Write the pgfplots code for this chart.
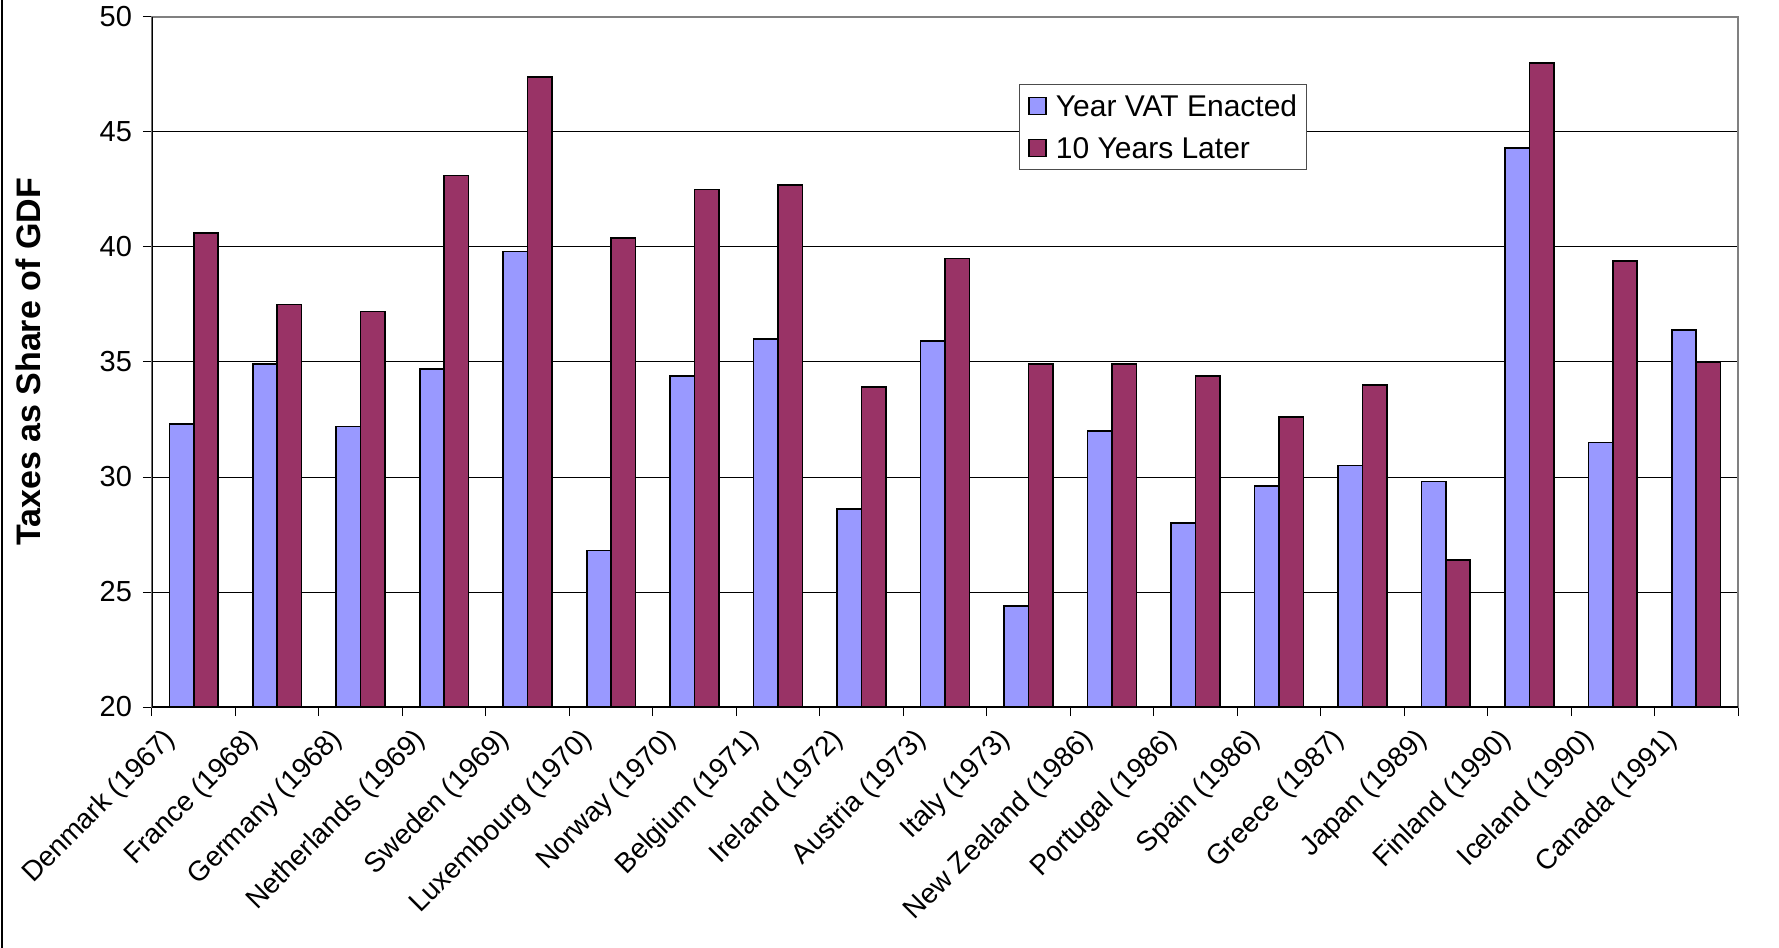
\documentclass[border=0pt]{standalone}
\usepackage{fontspec}
\setmainfont{Liberation Sans}
\usepackage{pgfplots}
\pgfplotsset{compat=1.18}
\definecolor{vatblue}{HTML}{9999FF}
\definecolor{vatred}{HTML}{993366}
\begin{document}
\begin{tikzpicture}
\useasboundingbox (-76bp,-120.5bp) rectangle (813.5bp,353.5bp);
\begin{axis}[
  at={(0,0)}, anchor=south west,
  scale only axis, width=793bp, height=345bp,
  xmin=-0.5, xmax=18.5, ymin=20, ymax=50,
  ytick={20,25,...,50},
  ymajorgrids, major grid style={black, line width=0.5bp},
  xtick={0,...,18},
  xticklabels={Denmark (1967),France (1968),Germany (1968),Netherlands (1969),Sweden (1969),Luxembourg (1970),Norway (1970),Belgium (1971),Ireland (1972),Austria (1973),Italy (1973),New Zealand (1986),Portugal (1986),Spain (1986),Greece (1987),Japan (1989),Finland (1990),Iceland (1990),Canada (1991)},
  major x tick style={draw=none},
  minor xtick={-0.5,0.5,...,18.5},
  tick align=outside, xtick pos=bottom, ytick pos=left,
  major tick length=4.5bp, minor tick length=4.5bp,
  tick style={black, line width=0.5bp},
  axis line style={gray, line width=0.7bp},
  /pgf/number format/assume math mode=true,
  tick label style={font=\fontsize{14.5bp}{17bp}\selectfont},
  y tick label style={xshift=-2bp},
  x tick label style={font=\fontsize{14bp}{17bp}\selectfont, xshift=-16bp, yshift=-5bp, rotate=45, anchor=north east, inner sep=0pt},
  ylabel={Taxes as Share of GDF},
  ylabel style={at={(axis description cs:-0.0782,0.5)}, anchor=center, font=\fontsize{17bp}{20bp}\selectfont\bfseries},
  ybar=0pt, bar width=12.2bp,
  legend style={at={(rel axis cs:0.5465,0.903)}, anchor=north west, draw=black!70, line width=0.6bp,
    inner xsep=4.5bp, inner ysep=2bp, row sep=3.5bp, column sep=4.5bp,
    font=\fontsize{15bp}{18bp}\selectfont,
    nodes={text height=12bp, text depth=1.5bp, inner ysep=2bp, inner xsep=0pt}},
  legend cell align=left,
]
\addplot[fill=vatblue, draw=black, line width=0.8bp,
  legend image code/.code={\draw[fill=vatblue, draw=black, line width=0.8bp] (0bp,-4.25bp) rectangle (8.5bp,4.25bp);}]
  coordinates {(0,32.3) (1,34.9) (2,32.2) (3,34.7) (4,39.8) (5,26.8) (6,34.4) (7,36.0) (8,28.6) (9,35.9) (10,24.4) (11,32.0) (12,28.0) (13,29.6) (14,30.5) (15,29.8) (16,44.3) (17,31.5) (18,36.4)};
\addplot[fill=vatred, draw=black, line width=0.8bp,
  legend image code/.code={\draw[fill=vatred, draw=black, line width=0.8bp] (0bp,-4.25bp) rectangle (8.5bp,4.25bp);}]
  coordinates {(0,40.6) (1,37.5) (2,37.2) (3,43.1) (4,47.4) (5,40.4) (6,42.5) (7,42.7) (8,33.9) (9,39.5) (10,34.9) (11,34.9) (12,34.4) (13,32.6) (14,34.0) (15,26.4) (16,48.0) (17,39.4) (18,35.0)};
\legend{Year VAT Enacted, 10 Years Later}
\draw[black, line width=0.7bp] (rel axis cs:0,1) -- (rel axis cs:0,0) -- (rel axis cs:1,0);
\end{axis}
\draw[black, line width=1bp] (-75bp,-120.5bp) -- (-75bp,353.5bp);
\end{tikzpicture}
\end{document}
